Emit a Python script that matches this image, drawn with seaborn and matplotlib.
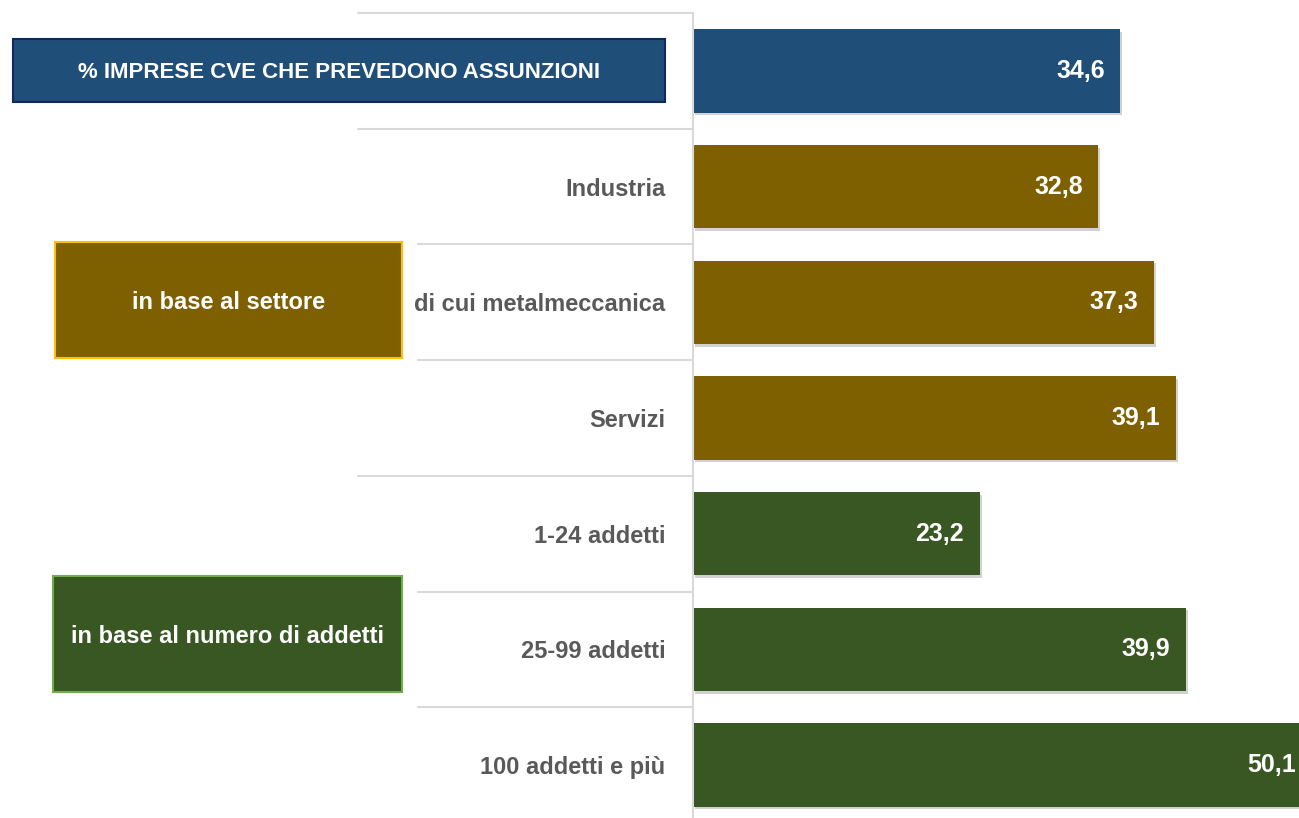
import matplotlib
matplotlib.use('Agg')
import matplotlib.pyplot as plt
import matplotlib.patheffects as pe
from matplotlib.patches import Rectangle
from matplotlib.lines import Line2D
from matplotlib.transforms import blended_transform_factory
import seaborn as sns
import pandas as pd

sns.set_style('white')
plt.rcParams['font.family'] = ['Liberation Sans Narrow', 'Liberation Sans', 'DejaVu Sans']

# data
categories = ['% IMPRESE CVE CHE PREVEDONO ASSUNZIONI', 'Industria', 'di cui metalmeccanica',
              'Servizi', '1-24 addetti', '25-99 addetti', '100 addetti e più']
values = [34.6, 32.8, 37.3, 39.1, 23.2, 39.9, 50.1]
groups = ['totale', 'settore', 'settore', 'settore', 'addetti', 'addetti', 'addetti']
tick_labels = ['', 'Industria', 'di cui metalmeccanica', 'Servizi',
               '1-24 addetti', '25-99 addetti', '100 addetti e più']
group_titles = {'totale': '% IMPRESE CVE CHE PREVEDONO ASSUNZIONI',
                'settore': 'in base al settore',
                'addetti': 'in base al numero di addetti'}

palette = {'totale': '#1F4E79', 'settore': '#7F6000', 'addetti': '#385723'}
box_edge = {'totale': '#0E2A5C', 'settore': '#FFC000', 'addetti': '#70AD47'}

df = pd.DataFrame({'cat': categories, 'val': values, 'grp': groups})

W, H = 1299, 818
fig = plt.figure(figsize=(W / 100, H / 100), dpi=100)
row_px = 115.7
ax = fig.add_axes([693 / W, (818 - 13 - 7 * row_px) / H, 606 / W, 7 * row_px / H])

sns.barplot(data=df, x='val', y='cat', hue='grp', palette=palette, dodge=False, saturation=1,
            legend=False, width=0.72, orient='h', ax=ax, linewidth=0)

for bar in ax.patches:
    bar.set_path_effects([pe.SimplePatchShadow(offset=(1.5, -2), shadow_rgbFace='#909090', alpha=0.4),
                          pe.Normal()])

ax.set_xlim(0, 606 / 12.35)
ax.set_ylim(6.5, -0.5)
ax.set_xlabel('')
ax.set_ylabel('')
ax.set_xticks([])
ax.set_yticks(range(len(categories)))
ax.set_yticklabels(tick_labels)
ax.tick_params(axis='y', length=0, pad=20, labelsize=17, labelcolor='#595959')
for lab in ax.get_yticklabels():
    lab.set_fontweight('bold')

for s in ['top', 'right', 'bottom']:
    ax.spines[s].set_visible(False)
ax.spines['left'].set_color('#D9D9D9')
ax.spines['left'].set_linewidth(1.5)

# value labels inside the bar end
for i, v in enumerate(values):
    ax.annotate(f'{v:.1f}'.replace('.', ','), xy=(v, i), xytext=(-11, 0), textcoords='offset points',
                ha='right', va='center', color='white', fontsize=18, fontweight='bold',
                annotation_clip=False)

# row separators to the left of the bars
trans = blended_transform_factory(ax.transAxes, ax.transData)
sep_start = [-0.553, -0.553, -0.454, -0.454, -0.553, -0.454, -0.454]
for i, x0 in enumerate(sep_start):
    ax.add_line(Line2D([x0, 0], [i - 0.5, i - 0.5], transform=trans, color='#D9D9D9',
                       lw=1.5, clip_on=False))

# group boxes
boxes = [('totale', -1.122, -0.046, -0.275, 0.27, 16),
         ('settore', -1.053, -0.480, 1.48, 2.48, 17),
         ('addetti', -1.056, -0.480, 4.37, 5.37, 17)]
for g, x0, x1, y0, y1, fs in boxes:
    ax.add_patch(Rectangle((x0, y0), x1 - x0, y1 - y0, transform=trans, facecolor=palette[g],
                           edgecolor=box_edge[g], lw=1.5, clip_on=False))
    ax.text((x0 + x1) / 2, (y0 + y1) / 2 + 0.02, group_titles[g], transform=trans, ha='center',
            va='center', color='white', fontsize=fs, fontweight='bold')

fig.savefig('out.png', dpi=100)
